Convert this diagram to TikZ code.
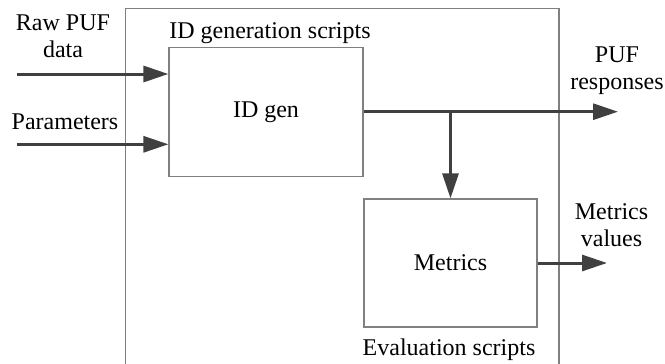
\documentclass[tikz,border=0pt]{standalone}
\usepackage{fontspec}
\setmainfont{Liberation Serif}
\usetikzlibrary{arrows.meta}
\definecolor{boxgray}{HTML}{808080}
\definecolor{flowgray}{HTML}{404040}
\begin{document}
\begin{tikzpicture}[x=1pt,y=-1pt,
  box/.style={draw=boxgray, line width=1.2pt, inner sep=0pt},
  flow/.style={draw=flowgray, line width=3pt, -{Triangle[length=25pt,width=16pt]}},
  lbl/.style={font=\fontsize{24}{26.5}\selectfont, inner sep=0pt, align=center}]
\useasboundingbox (0,0) rectangle (665,364);
\clip (0,0) rectangle (665,364);

% enclosing frame of the toolchain
\draw[box] (125.7,8.3) rectangle (559,380);

% processing blocks
\node[box, lbl, minimum width=194pt, minimum height=129pt] (idgen) at (266,112.2) {ID gen};
\node[box, lbl, minimum width=173pt, minimum height=128pt] (metrics) at (450.5,263) {Metrics};

% block captions
\node[lbl, anchor=base] (idcap) at (270,38.3) {ID generation scripts};
\node[lbl, anchor=base] (evcap) at (449,355) {Evaluation scripts};

% inputs and outputs
\node[lbl] (raw) at (63,36.2) {Raw PUF\\data};
\node[lbl, anchor=base] (param) at (65,129.3) {Parameters};
\node[lbl] (resp) at (617,70.9) {PUF\\responses};
\node[lbl] (mval) at (611.5,225) {Metrics\\values};

\coordinate (rawin) at (16.7,74);
\coordinate (parin) at (16.7,144.3);
\coordinate (respout) at (618,111.7);
\coordinate (branch) at (450.5,111.7);
\coordinate (mvalout) at (607,263);

\draw[flow] (rawin) -- (idgen.west |- rawin);
\draw[flow] (parin) -- (idgen.west |- parin);
\draw[flow] (idgen.east |- respout) -- (respout);
\draw[flow] (branch) -- (metrics.north);
\draw[flow] (metrics.east) -- (mvalout);
\end{tikzpicture}
\end{document}
